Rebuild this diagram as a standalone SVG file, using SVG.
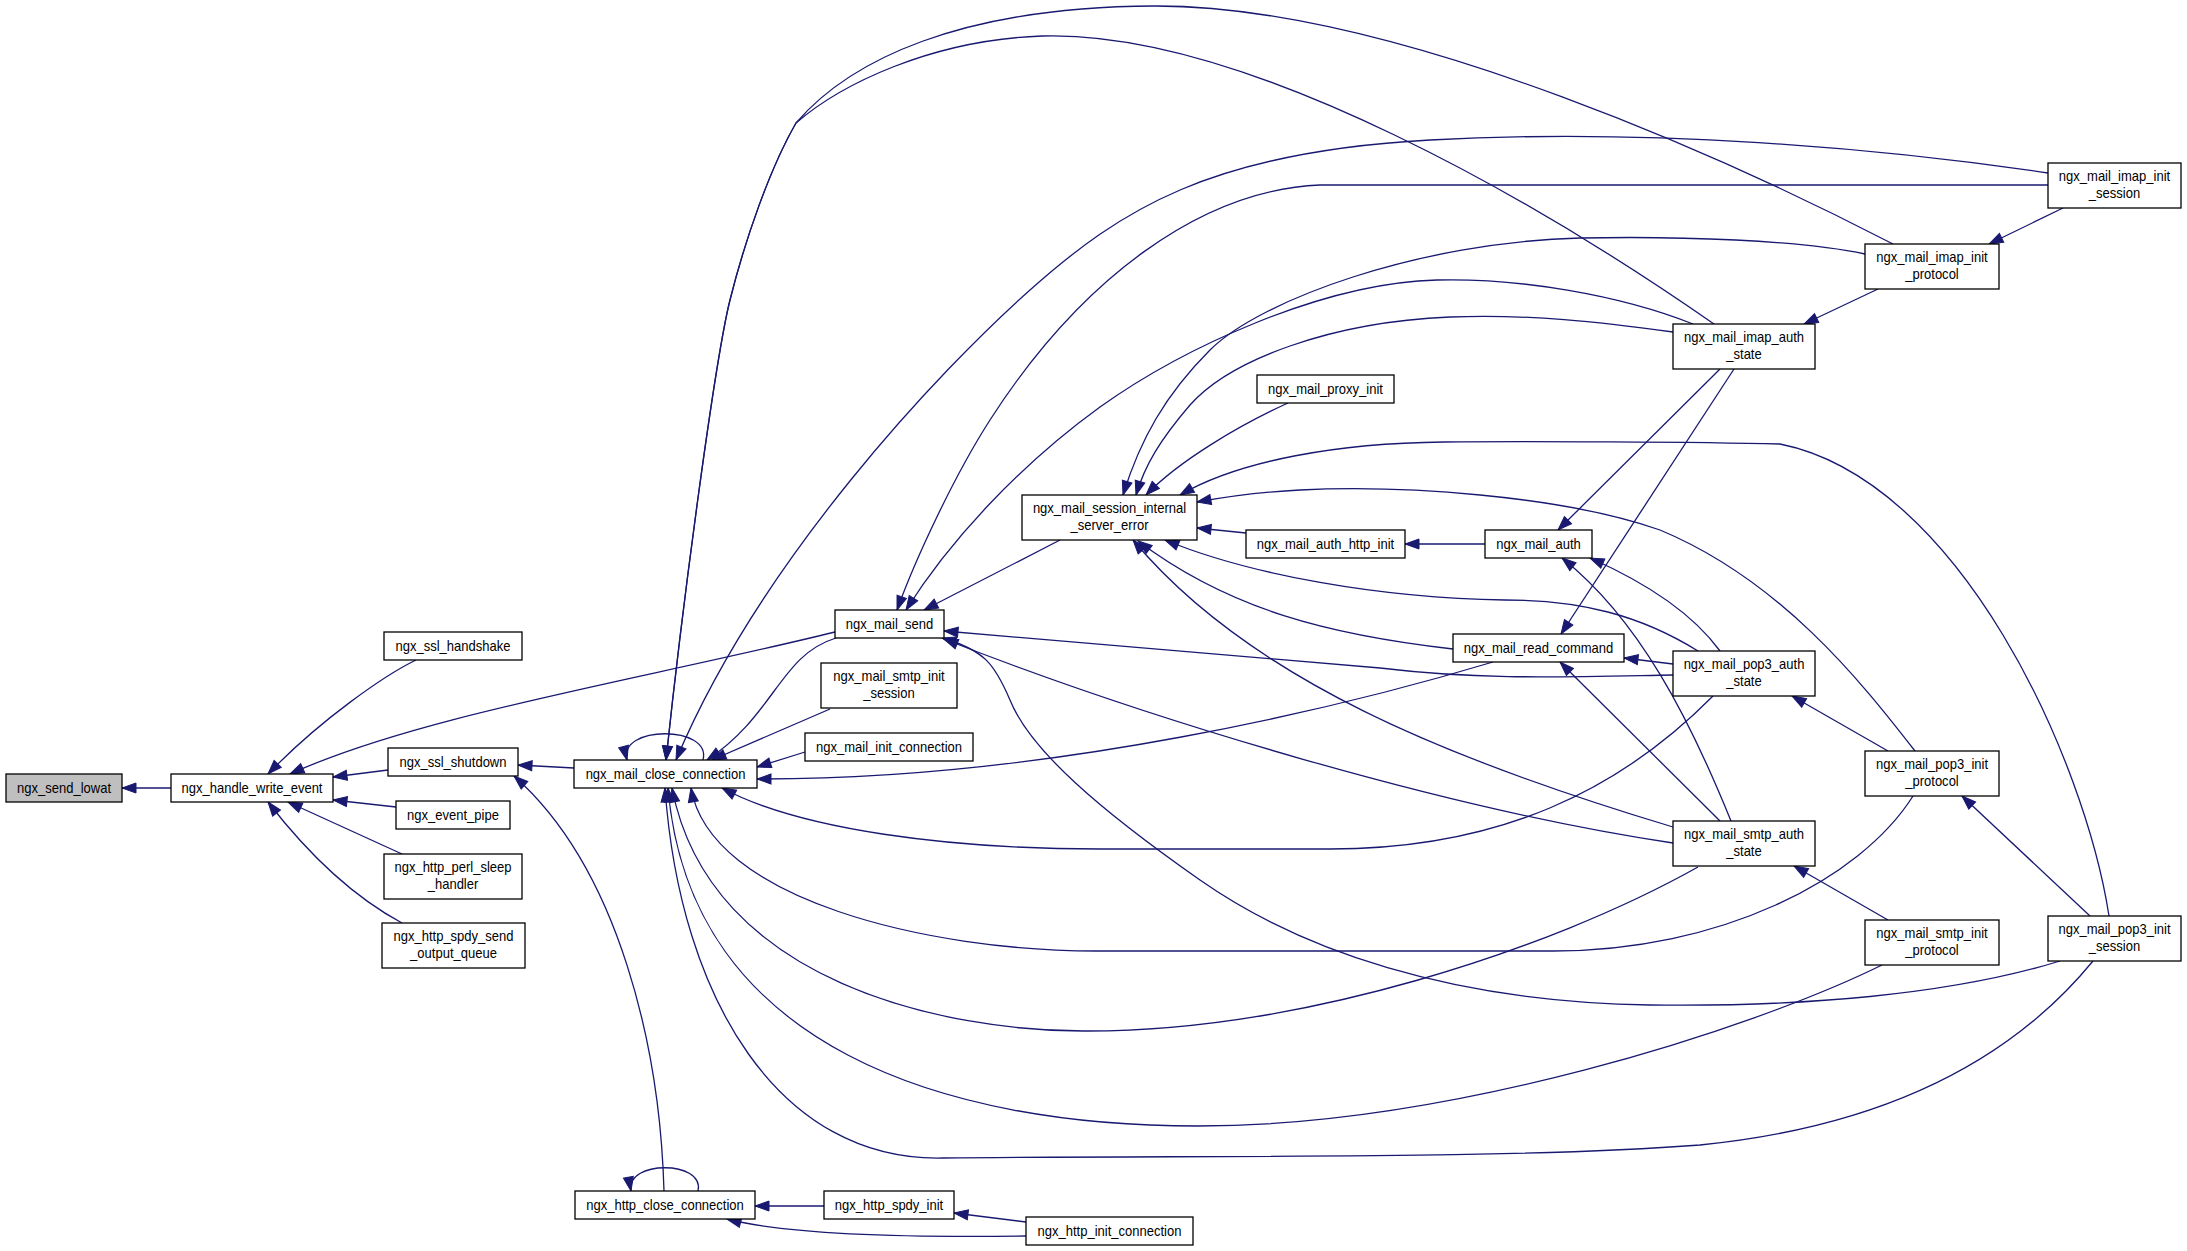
<svg xmlns="http://www.w3.org/2000/svg" width="2187" height="1251" viewBox="0 0 2187 1251">
<defs>
<style>
.e{fill:none;stroke:#191970;stroke-width:1.3;marker-end:url(#ah)}
.n rect{fill:#fff;stroke:#000;stroke-width:1.3}
.n text{font-family:"Liberation Sans",Arial,Helvetica,sans-serif;font-size:14px;fill:#000;text-anchor:middle}
</style>
<marker id="ah" markerUnits="userSpaceOnUse" markerWidth="16" markerHeight="12" refX="14" refY="6" orient="auto" overflow="visible">
<path d="M0,1 L14,6 L0,11 Z" fill="#191970" stroke="#191970" stroke-width="1"/>
</marker>
</defs>
<rect width="2187" height="1251" fill="#fff"/>
<g id="edges">
<path class="e" d="M171,788 L122,788"/>
<path class="e" d="M416,660 C385,675 320,720 268,774"/>
<path class="e" d="M835,632 C640,680 420,715 290,774"/>
<path class="e" d="M388,770 L333,777"/>
<path class="e" d="M396,807 L333,800"/>
<path class="e" d="M402,854 L288,802"/>
<path class="e" d="M402,923 C350,895 305,850 268,802"/>
<path class="e" d="M574,768 L518,765"/>
<path class="e" d="M664,1191 C660,1050 620,870 514,776"/>
<path class="e" d="M703,760 C712,725 618,725 627,760"/>
<path class="e" d="M1893,244 C1750,170 1400,5 1154,6 C960,7 850,60 796,123 C770,168 745,240 730,300 S683,600 666,760"/>
<path class="e" d="M1714,324 C1550,210 1250,30 1042,36 C930,40 840,85 796,123 C770,168 745,240 730,300 S683,600 666,760"/>
<path class="e" d="M2048,173 C1880,148 1650,128 1430,140 S1120,210 1030,290 S760,560 676,760"/>
<path class="e" d="M836,638 C780,655 775,715 707,760"/>
<path class="e" d="M830,709 L712,760"/>
<path class="e" d="M805,752 L757,767"/>
<path class="e" d="M1493,662 C1350,705 1050,780 757,779"/>
<path class="e" d="M1713,696 C1620,790 1500,849 1330,849 L1100,849 C950,849 800,830 722,788"/>
<path class="e" d="M1913,796 C1860,880 1720,951 1553,951 L1096,951 C930,951 710,900 691,788"/>
<path class="e" d="M1698,867 C1550,950 1300,1032 1083,1031 C950,1031 710,985 672,788"/>
<path class="e" d="M1882,965 C1750,1030 1450,1126 1198,1126 C950,1126 690,1050 668,788"/>
<path class="e" d="M2093,961 C2020,1050 1900,1125 1700,1145 C1500,1160 1200,1155 943,1158 C780,1162 680,1000 665,788"/>
<path class="e" d="M2060,961 C1950,995 1800,1007 1650,1005 C1450,1002 1300,950 1200,880 C1100,810 1030,750 1010,700 C995,665 985,650 942,638"/>
<path class="e" d="M1060,540 L924,610"/>
<path class="e" d="M2048,185 L1320,185 C1200,190 1080,280 990,420 C954,476 915,560 897,610"/>
<path class="e" d="M1693,324 C1620,295 1520,278 1437,280 C1320,283 1180,350 1100,407 C1020,465 950,540 906,610"/>
<path class="e" d="M1673,675 C1560,677 1480,680 1380,668 L944,631"/>
<path class="e" d="M1673,843 C1450,810 1150,720 944,639"/>
<path class="e" d="M1673,827 C1450,760 1250,680 1133,540"/>
<path class="e" d="M1453,649 C1330,635 1230,610 1138,541"/>
<path class="e" d="M1698,651 C1640,615 1580,600 1505,600 C1380,598 1250,575 1165,540"/>
<path class="e" d="M1246,533 L1197,528"/>
<path class="e" d="M1485,544 L1405,544"/>
<path class="e" d="M1288,403 C1240,425 1180,460 1146,495"/>
<path class="e" d="M1865,254 C1800,240 1680,236 1580,238 C1420,242 1260,300 1210,350 C1165,395 1140,440 1123,495"/>
<path class="e" d="M1673,332 C1600,322 1530,314 1450,317 C1330,322 1230,360 1190,405 C1160,440 1145,465 1136,495"/>
<path class="e" d="M2109,916 C2085,760 1960,480 1780,444 C1700,442 1520,441 1444,442 C1340,443 1240,460 1180,495"/>
<path class="e" d="M1915,751 C1860,680 1780,580 1660,530 C1560,495 1400,485 1300,490 C1260,492 1230,496 1197,502"/>
<path class="e" d="M1734,369 L1561,634"/>
<path class="e" d="M1720,369 L1558,530"/>
<path class="e" d="M1673,664 L1624,658"/>
<path class="e" d="M1720,821 L1560,662"/>
<path class="e" d="M1720,651 C1690,610 1640,580 1590,558"/>
<path class="e" d="M1731,821 C1690,720 1640,620 1562,558"/>
<path class="e" d="M2063,208 L1989,244"/>
<path class="e" d="M1878,289 L1804,324"/>
<path class="e" d="M1888,751 L1792,696"/>
<path class="e" d="M1888,920 L1794,866"/>
<path class="e" d="M2090,916 L1962,796"/>
<path class="e" d="M698,1191 C705,1160 625,1160 631,1191"/>
<path class="e" d="M824,1206 L755,1206"/>
<path class="e" d="M1026,1222 L954,1213"/>
<path class="e" d="M1026,1236 C950,1237 800,1238 727,1219"/>
</g>
<g id="ngx_send_lowat" class="n"><rect x="6" y="774" width="116" height="28" style="fill:#bfbfbf"/><text transform="translate(64,793) scale(0.93,1)">ngx_send_lowat</text></g>
<g id="ngx_handle_write_event" class="n"><rect x="171" y="774" width="162" height="28"/><text transform="translate(252,793) scale(0.93,1)">ngx_handle_write_event</text></g>
<g id="ngx_ssl_handshake" class="n"><rect x="384" y="632" width="138" height="28"/><text transform="translate(453,651) scale(0.93,1)">ngx_ssl_handshake</text></g>
<g id="ngx_ssl_shutdown" class="n"><rect x="388" y="748" width="130" height="28"/><text transform="translate(453,767) scale(0.93,1)">ngx_ssl_shutdown</text></g>
<g id="ngx_event_pipe" class="n"><rect x="396" y="801" width="114" height="28"/><text transform="translate(453,820) scale(0.93,1)">ngx_event_pipe</text></g>
<g id="ngx_http_perl_sleep_handler" class="n"><rect x="384" y="854" width="138" height="45"/><text transform="translate(453,871.5) scale(0.93,1)">ngx_http_perl_sleep</text><text transform="translate(453,888.5) scale(0.93,1)">_handler</text></g>
<g id="ngx_http_spdy_send_output_queue" class="n"><rect x="382" y="923" width="143" height="45"/><text transform="translate(453.5,940.5) scale(0.93,1)">ngx_http_spdy_send</text><text transform="translate(453.5,957.5) scale(0.93,1)">_output_queue</text></g>
<g id="ngx_mail_close_connection" class="n"><rect x="574" y="760" width="183" height="28"/><text transform="translate(665.5,779) scale(0.93,1)">ngx_mail_close_connection</text></g>
<g id="ngx_http_close_connection" class="n"><rect x="575" y="1191" width="180" height="28"/><text transform="translate(665,1210) scale(0.93,1)">ngx_http_close_connection</text></g>
<g id="ngx_mail_send" class="n"><rect x="835" y="610" width="109" height="28"/><text transform="translate(889.5,629) scale(0.93,1)">ngx_mail_send</text></g>
<g id="ngx_mail_smtp_init_session" class="n"><rect x="821" y="663" width="136" height="45"/><text transform="translate(889,680.5) scale(0.93,1)">ngx_mail_smtp_init</text><text transform="translate(889,697.5) scale(0.93,1)">_session</text></g>
<g id="ngx_mail_init_connection" class="n"><rect x="805" y="733" width="168" height="28"/><text transform="translate(889,752) scale(0.93,1)">ngx_mail_init_connection</text></g>
<g id="ngx_http_spdy_init" class="n"><rect x="824" y="1191" width="130" height="28"/><text transform="translate(889,1210) scale(0.93,1)">ngx_http_spdy_init</text></g>
<g id="ngx_http_init_connection" class="n"><rect x="1026" y="1217" width="167" height="28"/><text transform="translate(1109.5,1236) scale(0.93,1)">ngx_http_init_connection</text></g>
<g id="ngx_mail_session_internal_server_error" class="n"><rect x="1022" y="495" width="175" height="45"/><text transform="translate(1109.5,512.5) scale(0.93,1)">ngx_mail_session_internal</text><text transform="translate(1109.5,529.5) scale(0.93,1)">_server_error</text></g>
<g id="ngx_mail_proxy_init" class="n"><rect x="1257" y="375" width="137" height="28"/><text transform="translate(1325.5,394) scale(0.93,1)">ngx_mail_proxy_init</text></g>
<g id="ngx_mail_auth_http_init" class="n"><rect x="1246" y="530" width="159" height="28"/><text transform="translate(1325.5,549) scale(0.93,1)">ngx_mail_auth_http_init</text></g>
<g id="ngx_mail_auth" class="n"><rect x="1485" y="530" width="107" height="28"/><text transform="translate(1538.5,549) scale(0.93,1)">ngx_mail_auth</text></g>
<g id="ngx_mail_read_command" class="n"><rect x="1453" y="634" width="171" height="28"/><text transform="translate(1538.5,653) scale(0.93,1)">ngx_mail_read_command</text></g>
<g id="ngx_mail_imap_init_session" class="n"><rect x="2048" y="163" width="133" height="45"/><text transform="translate(2114.5,180.5) scale(0.93,1)">ngx_mail_imap_init</text><text transform="translate(2114.5,197.5) scale(0.93,1)">_session</text></g>
<g id="ngx_mail_imap_init_protocol" class="n"><rect x="1865" y="244" width="134" height="45"/><text transform="translate(1932,261.5) scale(0.93,1)">ngx_mail_imap_init</text><text transform="translate(1932,278.5) scale(0.93,1)">_protocol</text></g>
<g id="ngx_mail_imap_auth_state" class="n"><rect x="1673" y="324" width="142" height="45"/><text transform="translate(1744,341.5) scale(0.93,1)">ngx_mail_imap_auth</text><text transform="translate(1744,358.5) scale(0.93,1)">_state</text></g>
<g id="ngx_mail_pop3_auth_state" class="n"><rect x="1673" y="651" width="142" height="45"/><text transform="translate(1744,668.5) scale(0.93,1)">ngx_mail_pop3_auth</text><text transform="translate(1744,685.5) scale(0.93,1)">_state</text></g>
<g id="ngx_mail_smtp_auth_state" class="n"><rect x="1673" y="821" width="142" height="45"/><text transform="translate(1744,838.5) scale(0.93,1)">ngx_mail_smtp_auth</text><text transform="translate(1744,855.5) scale(0.93,1)">_state</text></g>
<g id="ngx_mail_pop3_init_protocol" class="n"><rect x="1865" y="751" width="134" height="45"/><text transform="translate(1932,768.5) scale(0.93,1)">ngx_mail_pop3_init</text><text transform="translate(1932,785.5) scale(0.93,1)">_protocol</text></g>
<g id="ngx_mail_smtp_init_protocol" class="n"><rect x="1865" y="920" width="134" height="45"/><text transform="translate(1932,937.5) scale(0.93,1)">ngx_mail_smtp_init</text><text transform="translate(1932,954.5) scale(0.93,1)">_protocol</text></g>
<g id="ngx_mail_pop3_init_session" class="n"><rect x="2048" y="916" width="133" height="45"/><text transform="translate(2114.5,933.5) scale(0.93,1)">ngx_mail_pop3_init</text><text transform="translate(2114.5,950.5) scale(0.93,1)">_session</text></g>
</svg>
